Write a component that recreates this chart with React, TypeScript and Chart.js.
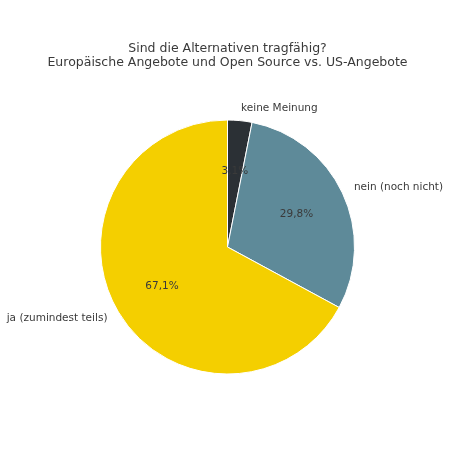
import { useEffect, useRef } from "react";
import { Chart, registerables } from "chart.js";

Chart.register(...registerables);

const titleLines = [
  "Sind die Alternativen tragfähig?",
  "Europäische Angebote und Open Source vs. US-Angebote",
];
const labels = ["keine Meinung", "nein (noch nicht)", "ja (zumindest teils)"];
const values = [3.1, 29.8, 67.1];
const colors = ["#2b3035", "#5e8a99", "#f4cf00"];

const FONT = "'DejaVu Sans', sans-serif";
const TEXT = "#3a3a3a";

// draws title, outer labels and percentages like matplotlib's pie
const piePlugin = {
  id: "pieLabels",
  afterDraw(chart) {
    const ctx = chart.ctx;
    ctx.save();
    ctx.fillStyle = TEXT;
    ctx.font = `12.5px ${FONT}`;
    ctx.textAlign = "center";
    ctx.textBaseline = "middle";
    const area = chart.chartArea;
    const cx = (area.left + area.right) / 2;
    titleLines.forEach((line, i) => {
      ctx.fillText(line, cx, 48.5 + i * 14.5);
    });

    const meta = chart.getDatasetMeta(0);
    ctx.font = `10.5px ${FONT}`;
    meta.data.forEach((arc, i) => {
      const { x, y, startAngle, endAngle, outerRadius } = arc.getProps(
        ["x", "y", "startAngle", "endAngle", "outerRadius"],
        true
      );
      const mid = (startAngle + endAngle) / 2;
      const cos = Math.cos(mid);
      const sin = Math.sin(mid);
      // outer label
      ctx.textAlign = cos >= 0 ? "left" : "right";
      ctx.fillText(labels[i], x + cos * outerRadius * 1.1, y + sin * outerRadius * 1.1);
      // percentage
      ctx.textAlign = "center";
      const pct = values[i].toFixed(1).replace(".", ",") + "%";
      ctx.fillText(pct, x + cos * outerRadius * 0.6, y + sin * outerRadius * 0.6);
    });
    ctx.restore();
  },
};

export default function App() {
  const ref = useRef(null);

  useEffect(() => {
    if (!ref.current) return;
    const chart = new Chart(ref.current, {
      type: "pie",
      data: {
        labels: labels,
        datasets: [
          {
            data: values,
            backgroundColor: colors,
            borderColor: "#ffffff",
            borderWidth: 1,
          },
        ],
      },
      options: {
        responsive: false,
        maintainAspectRatio: false,
        animation: false,
        layout: {
          padding: { left: 100, right: 95, top: 119, bottom: 75 },
        },
        plugins: {
          legend: { display: false },
          title: { display: false },
          tooltip: { enabled: false },
        },
      },
      plugins: [piePlugin],
    });

    return () => {
      chart.destroy();
    };
  }, []);

  return (
    <div
      style={{
        position: "fixed",
        top: 0,
        left: 0,
        width: 450,
        height: 450,
        background: "#ffffff",
      }}
    >
      <canvas ref={ref} width={450} height={450}></canvas>
    </div>
  );
}
